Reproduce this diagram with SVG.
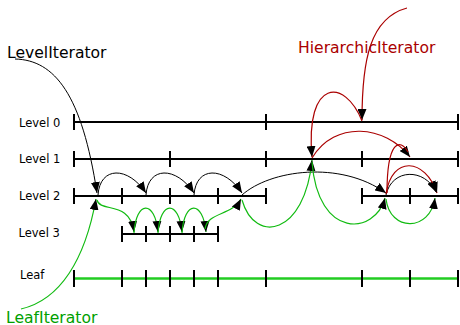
<svg xmlns="http://www.w3.org/2000/svg" width="460" height="325" viewBox="0 0 460 325">
<style>
text{font-family:"DejaVu Sans","Liberation Sans",sans-serif}
.lbl{font-size:11.5px;fill:#000}
.title{font-size:15.6px}
.axis{stroke:#000;stroke-width:2;fill:none}
.leaf{stroke:#22cc22;stroke-width:2.5;fill:none}
.tick{stroke:#000;stroke-width:2}
.blk{stroke:#000;stroke-width:1;fill:none}
.red{stroke:#aa0000;stroke-width:1.2;fill:none}
.grn{stroke:#11bb11;stroke-width:1.2;fill:none}
.arr{marker-end:url(#ah)}
</style>
<defs>
<marker id="ah" markerUnits="userSpaceOnUse" markerWidth="11" markerHeight="9" refX="11" refY="4.5" orient="auto">
<path d="M0,0 L11,4.5 L0,9 z" fill="#000"/>
</marker>
</defs>
<rect width="460" height="325" fill="#fff"/>
<g id="level0">
<text class="lbl" x="19" y="126.5">Level 0</text>
<line class="axis" x1="74" y1="122" x2="458" y2="122"/>
<path class="tick" d="M74,114v16M266,114v16M458,114v16"/>
</g>
<g id="level1">
<text class="lbl" x="19" y="163">Level 1</text>
<line class="axis" x1="74" y1="159" x2="458" y2="159"/>
<path class="tick" d="M74,151v16M170,151v16M266,151v16M362,151v16M458,151v16"/>
</g>
<g id="level2">
<text class="lbl" x="19" y="199.5">Level 2</text>
<line class="axis" x1="74" y1="196" x2="266" y2="196"/>
<line class="axis" x1="362" y1="196" x2="458" y2="196"/>
<path class="tick" d="M74,188v16M122,188v16M170,188v16M218,188v16M266,188v16M362,188v16M410,188v16M458,188v16"/>
</g>
<g id="level3">
<text class="lbl" x="18.5" y="236.5">Level 3</text>
<line class="axis" x1="122" y1="234" x2="218" y2="234"/>
<path class="tick" d="M122,226v16M146,226v16M170,226v16M194,226v16M218,226v16"/>
</g>
<g id="leaf">
<text class="lbl" x="20" y="279">Leaf</text>
<line class="leaf" x1="74" y1="278.5" x2="458" y2="278.5"/>
<path class="tick" d="M74,270v17M122,270v17M146,270v17M170,270v17M194,270v17M218,270v17M266,270v17M362,270v17M410,270v17M458,270v17"/>
</g>
<g id="levelIterator">
<text class="title" x="7" y="58" fill="#000">LevelIterator</text>
</g>
<g id="hierarchicIterator">
<text class="title" x="298" y="53" fill="#aa0000">HierarchicIterator</text>
</g>
<g id="leafIterator">
<text class="title" x="6" y="322.5" fill="#00a000">LeafIterator</text>
</g>
<g id="connectors">
<path class="blk arr" d="M15,59 C55,60 82,95 97,193"/>
<path class="blk arr" d="M98,195 C100,166 128,166 146,193"/>
<path class="blk arr" d="M146,195 C148,166 176,166 194,193"/>
<path class="blk arr" d="M194,195 C196,166 224,166 242,193"/>
<path class="blk arr" d="M242,195 C270,170 340,160 386,193"/>
<path class="blk arr" d="M386,195 C392,168 425,168 436,192"/>
<path class="red arr" d="M407,8 C370,18 362,60 362,120"/>
<path class="red arr" d="M362,121 C345,78 305,78 312,157"/>
<path class="red arr" d="M312,158 C335,120 385,125 410,157"/>
<path class="red" d="M387,193 C387,140 400,138 408,152"/>
<path class="red arr" d="M386,194 C392,155 425,158 437,193"/>
<path class="grn arr" d="M21,309 C60,300 85,260 96,199"/>
<path class="grn arr" d="M97,200 C100,213 130,200 134,232"/>
<path class="grn arr" d="M134,233 C136,200 155,200 158,232"/>
<path class="grn arr" d="M158,233 C160,200 179,200 182,232"/>
<path class="grn arr" d="M182,233 C184,200 203,200 206,232"/>
<path class="grn arr" d="M205,229 C207,212 232,216 241,199"/>
<path class="grn arr" d="M242,200 C255,245 305,235 312,160"/>
<path class="grn arr" d="M312,162 C318,240 375,235 385,198"/>
<path class="grn arr" d="M386,199 C390,232 430,232 435,198"/>
</g>
</svg>
